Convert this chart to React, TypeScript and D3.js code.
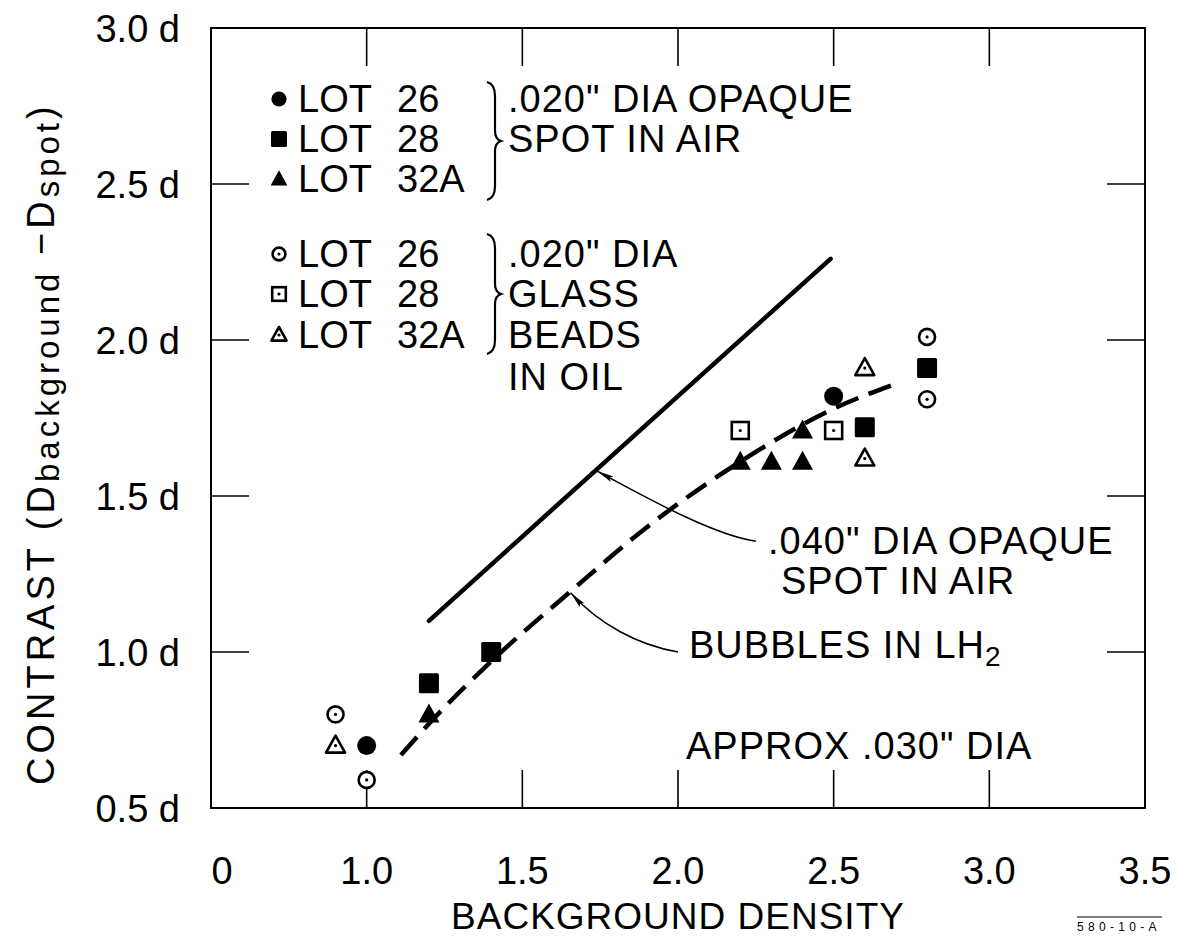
import * as d3 from "d3";

// x values are background density, y values are contrast (in d units)
const xTicks = [0.5, 1.0, 1.5, 2.0, 2.5, 3.0, 3.5];
const xTickLabels = ["0", "1.0", "1.5", "2.0", "2.5", "3.0", "3.5"];
const yTicks = [0.5, 1.0, 1.5, 2.0, 2.5, 3.0];
const yTickLabels = ["0.5 d", "1.0 d", "1.5 d", "2.0 d", "2.5 d", "3.0 d"];

// .020" dia opaque spot in air
const lot26Opaque = [[1.0, 0.70], [2.5, 1.82]];
const lot28Opaque = [[1.2, 0.90], [1.4, 1.00], [2.6, 1.72], [2.8, 1.91]];
const lot32aOpaque = [[1.2, 0.80], [2.2, 1.61], [2.3, 1.61], [2.4, 1.61], [2.4, 1.71]];
// .020" dia glass beads in oil
const lot26Glass = [[0.9, 0.80], [1.0, 0.59], [2.8, 2.01], [2.8, 1.81]];
const lot28Glass = [[2.2, 1.71], [2.5, 1.71]];
const lot32aGlass = [[0.9, 0.70], [2.6, 1.91], [2.6, 1.62]];

// .040" dia opaque spot in air (solid) and bubbles in LH2 (dashed)
const opaqueLine = [[1.2, 1.10], [1.5, 1.37], [2.0, 1.82], [2.49, 2.26]];
const bubbleCurve = [[1.11, 0.67], [1.2, 0.77], [1.4, 0.97], [1.65, 1.19], [1.9, 1.40], [2.2, 1.61], [2.5, 1.78], [2.7, 1.86]];

// leader arrows: [label end, point on curve]
const leaders = [
  { from: [2.25, 1.355], to: [1.74, 1.58], c1: [-42, -6], c2: [52, 28] },
  { from: [2.0, 1.0], to: [1.655, 1.19], c1: [-40, -7], c2: [29, 32] },
];

const W = 1177;
const H = 939;
const left = 211, right = 1145, top = 28, bottom = 808;
const FONT = "'Liberation Sans', Arial, sans-serif";

const x = d3.scaleLinear().domain([0.5, 3.5]).range([left, right]);
const y = d3.scaleLinear().domain([0.5, 3.0]).range([bottom, top]);

type Kind = "disc" | "box" | "tri" | "ring" | "openBox" | "openTri";

function Marker({ kind, cx, cy, s = 1 }: { kind: Kind; cx: number; cy: number; s?: number }) {
  const dot = <circle cx={cx} cy={cy} r={1.6} fill="#000" />;
  if (kind === "disc") return <circle cx={cx} cy={cy} r={9.5 * s} fill="#000" />;
  if (kind === "box") {
    const h = 10 * s;
    return <rect x={cx - h} y={cy - h} width={2 * h} height={2 * h} rx={1.5} fill="#000" />;
  }
  if (kind === "tri") {
    const w = 10.5 * s, t = 11 * s, b = 8 * s;
    return <path d={`M${cx},${cy - t}L${cx + w},${cy + b}L${cx - w},${cy + b}Z`} fill="#000" />;
  }
  if (kind === "ring")
    return (
      <g>
        <circle cx={cx} cy={cy} r={8 * s} fill="#fff" stroke="#000" strokeWidth={2.6} />
        {dot}
      </g>
    );
  if (kind === "openBox") {
    const h = 8.5 * s;
    return (
      <g>
        <rect x={cx - h} y={cy - h} width={2 * h} height={2 * h} fill="#fff" stroke="#000" strokeWidth={2.6} />
        {dot}
      </g>
    );
  }
  const w = 9.5 * s, t = 10 * s, b = 7 * s;
  return (
    <g>
      <path d={`M${cx},${cy - t}L${cx + w},${cy + b}L${cx - w},${cy + b}Z`} fill="#fff" stroke="#000" strokeWidth={2.6} strokeLinejoin="round" />
      {dot}
    </g>
  );
}

const series: { kind: Kind; data: number[][]; lot: string; num: string }[] = [
  { kind: "disc", data: lot26Opaque, lot: "LOT", num: "26" },
  { kind: "box", data: lot28Opaque, lot: "LOT", num: "28" },
  { kind: "tri", data: lot32aOpaque, lot: "LOT", num: "32A" },
  { kind: "ring", data: lot26Glass, lot: "LOT", num: "26" },
  { kind: "openBox", data: lot28Glass, lot: "LOT", num: "28" },
  { kind: "openTri", data: lot32aGlass, lot: "LOT", num: "32A" },
];

const legendBaselines = [112, 152, 192, 267, 307, 348];

function Brace({ x0, y0, y1 }: { x0: number; y0: number; y1: number }) {
  const m = (y0 + y1) / 2;
  const xc = x0 + 8;
  return (
    <path
      d={`M${x0},${y0} Q${xc},${y0 + 2} ${xc},${y0 + 14} L${xc},${m - 10} Q${xc},${m - 2} ${xc + 6},${m} Q${xc},${m + 2} ${xc},${m + 10} L${xc},${y1 - 14} Q${xc},${y1 - 2} ${x0},${y1}`}
      fill="none"
      stroke="#000"
      strokeWidth={2.2}
    />
  );
}

export default function App() {
  const line = d3.line<number[]>().x((d) => x(d[0])).y((d) => y(d[1]));
  const curve = d3.line<number[]>().x((d) => x(d[0])).y((d) => y(d[1])).curve(d3.curveMonotoneX);
  const tick = 38;

  return (
    <svg width={W} height={H} style={{ position: "absolute", left: 0, top: 0, background: "#fff" }} fontFamily={FONT}>
      <defs>
        <marker id="arrow" markerUnits="userSpaceOnUse" markerWidth={20} markerHeight={12} refX={17} refY={5} orient="auto">
          <path d="M0,2 L17,5 L0,8 L3,5 Z" fill="#000" />
        </marker>
      </defs>
      <rect x={0} y={0} width={W} height={H} fill="#fff" />

      {/* frame */}
      <rect x={left} y={top} width={right - left} height={bottom - top} fill="none" stroke="#000" strokeWidth={2} />
      {xTicks.slice(1, -1).map((t) => (
        <g key={"xt" + t}>
          <line x1={x(t)} x2={x(t)} y1={bottom} y2={bottom - tick} stroke="#000" strokeWidth={1.6} />
          <line x1={x(t)} x2={x(t)} y1={top} y2={top + tick} stroke="#000" strokeWidth={1.6} />
        </g>
      ))}
      {yTicks.slice(1, -1).map((t) => (
        <g key={"yt" + t}>
          <line x1={left} x2={left + tick} y1={y(t)} y2={y(t)} stroke="#000" strokeWidth={1.6} />
          <line x1={right} x2={right - tick} y1={y(t)} y2={y(t)} stroke="#000" strokeWidth={1.6} />
        </g>
      ))}

      {/* tick labels */}
      {xTicks.map((t, i) => (
        <text key={"xl" + t} x={x(t) + (i === 0 ? 11 : 0)} y={884} fontSize={38} textAnchor="middle">
          {xTickLabels[i]}
        </text>
      ))}
      {yTicks.map((t, i) => (
        <text key={"yl" + t} x={180} y={y(t) + 14} fontSize={38} textAnchor="end">
          {yTickLabels[i]}
        </text>
      ))}

      {/* axis titles */}
      <text x={(left + right) / 2} y={929} fontSize={37} textAnchor="middle" letterSpacing={1}>
        BACKGROUND  DENSITY
      </text>
      <text transform="translate(54,785) rotate(-90)" fontSize={38} letterSpacing={4}>
        CONTRAST (D
        <tspan fontSize={33} dy={5}>background</tspan>
        <tspan dy={-5}> −D</tspan>
        <tspan fontSize={33} dy={5}>spot</tspan>
        <tspan dy={-5}>)</tspan>
      </text>
      <text x={1077} y={931} fontSize={12} letterSpacing={4.3}>580-10-A</text>
      <line x1={1077} x2={1162} y1={917} y2={917} stroke="#000" strokeWidth={1} />

      {/* curves */}
      <path d={line(opaqueLine) ?? ""} fill="none" stroke="#000" strokeWidth={4.5} strokeLinecap="round" />
      <path d={curve(bubbleCurve) ?? ""} fill="none" stroke="#000" strokeWidth={4.5} strokeDasharray="24 11" />

      {/* leaders */}
      {leaders.map((l, i) => {
        const x0 = x(l.from[0]), y0 = y(l.from[1]);
        const x1 = x(l.to[0]), y1 = y(l.to[1]);
        return (
          <path
            key={"ld" + i}
            d={`M${x0},${y0} C${x0 + l.c1[0]},${y0 + l.c1[1]} ${x1 + l.c2[0]},${y1 + l.c2[1]} ${x1},${y1}`}
            fill="none"
            stroke="#000"
            strokeWidth={1.5}
            markerEnd="url(#arrow)"
          />
        );
      })}

      {/* data points */}
      {series.map((s) =>
        s.data.map((d, j) => <Marker key={s.kind + j} kind={s.kind} cx={x(d[0])} cy={y(d[1])} />)
      )}

      {/* legend */}
      {series.map((s, i) => (
        <g key={"lg" + i}>
          <Marker kind={s.kind} cx={279} cy={legendBaselines[i] - 13} s={0.8} />
          <text x={298} y={legendBaselines[i]} fontSize={38}>{s.lot}</text>
          <text x={397} y={legendBaselines[i]} fontSize={38}>{s.num}</text>
        </g>
      ))}
      <Brace x0={487} y0={82} y1={200} />
      <Brace x0={487} y0={234} y1={354} />
      <g fontSize={38} letterSpacing={1}>
        <text x={508} y={112}>.020" DIA OPAQUE</text>
        <text x={508} y={152}>SPOT IN AIR</text>
        <text x={508} y={267}>.020" DIA</text>
        <text x={508} y={307}>GLASS</text>
        <text x={508} y={348}>BEADS</text>
        <text x={508} y={390}>IN OIL</text>
        <text x={768} y={554}>.040" DIA OPAQUE</text>
        <text x={781} y={594}>SPOT IN AIR</text>
        <text x={689} y={658}>
          BUBBLES IN LH<tspan fontSize={28} dy={8}>2</tspan>
        </text>
        <text x={686} y={759}>APPROX .030" DIA</text>
      </g>
    </svg>
  );
}
